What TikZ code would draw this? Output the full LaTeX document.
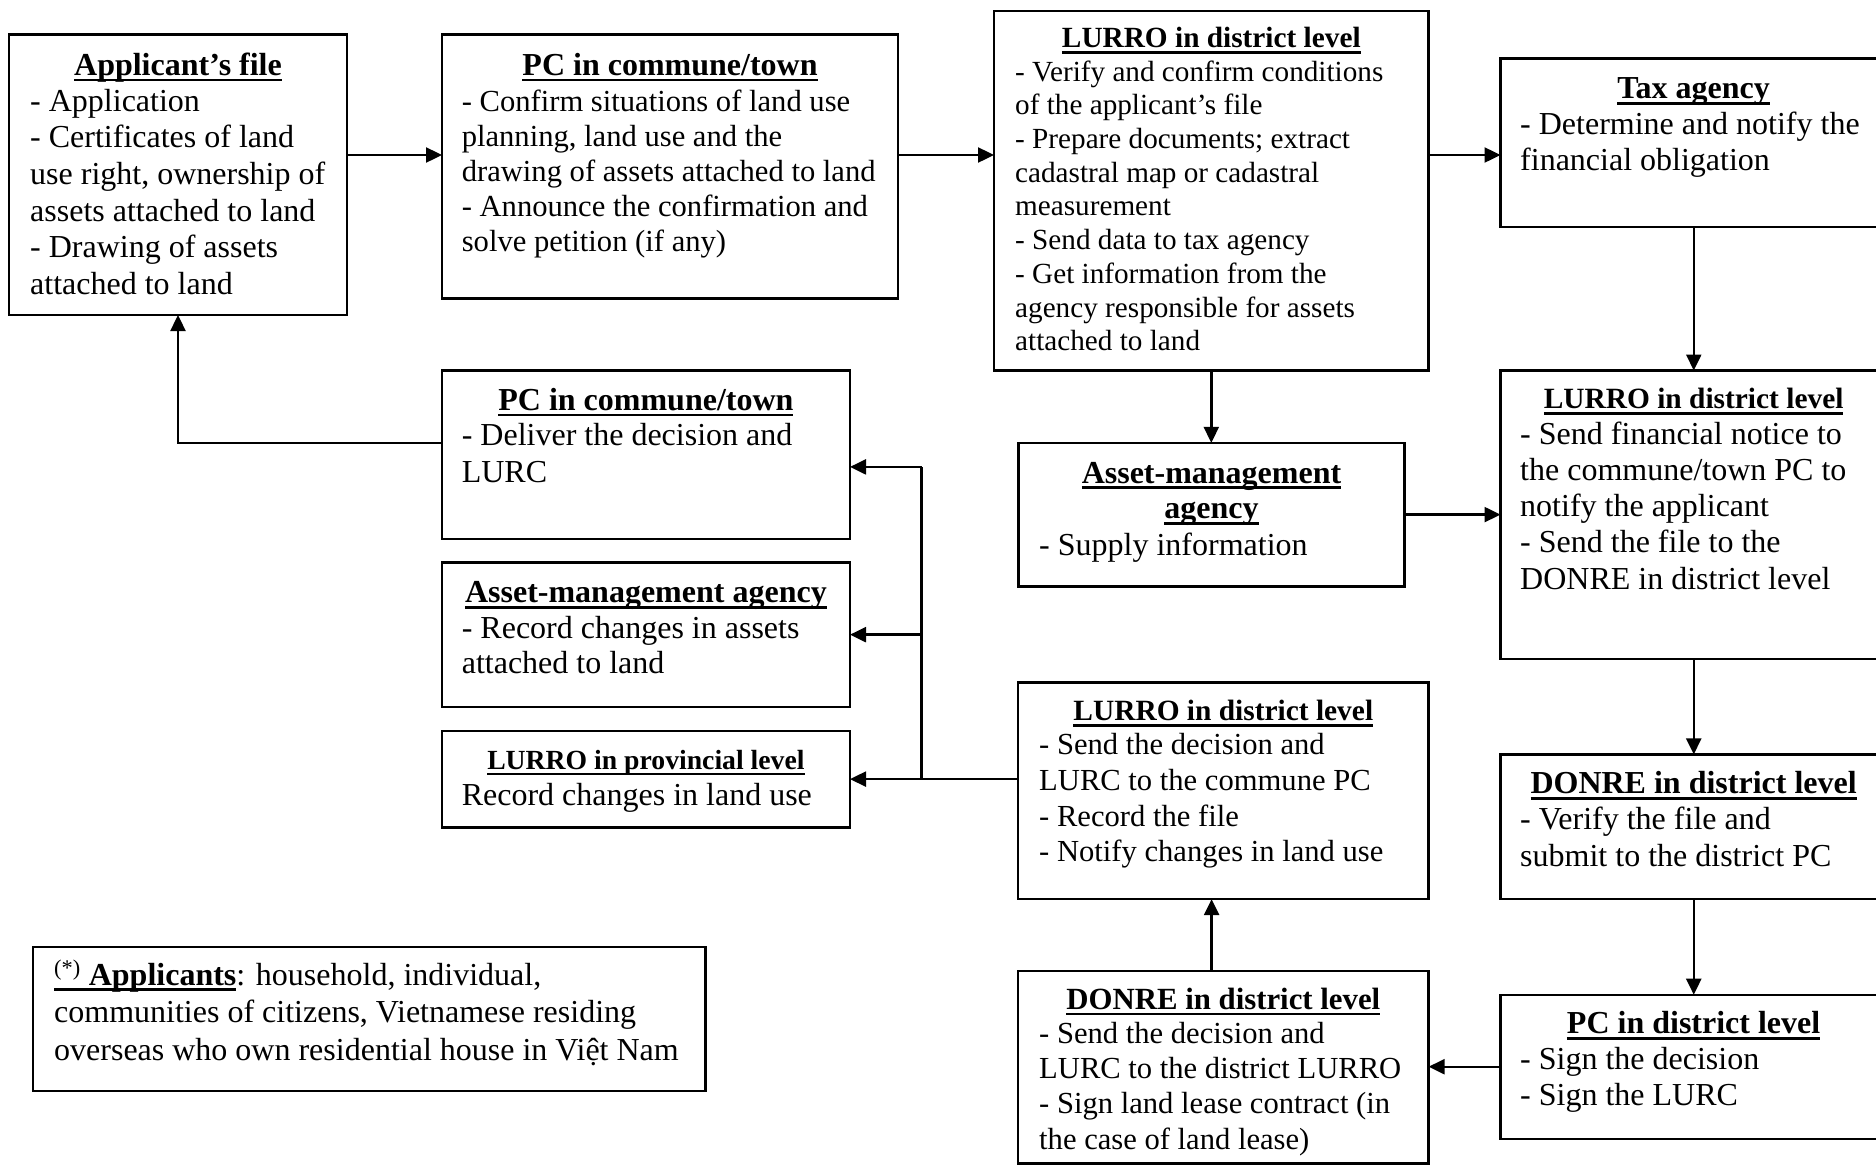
\documentclass[tikz,border=0pt]{standalone}
\usepackage{fontspec}
\setmainfont{Liberation Serif}
\usetikzlibrary{arrows.meta}
\newcommand\myul[1]{\setbox0=\hbox{#1}\rlap{\rule[-6pt]{\wd0}{2.8pt}}\box0}
\newcommand\mylines[1]{\vtop{\halign{##\hfil\cr#1\crcr}}}
\tikzset{
  x=1pt, y=-1pt,
  box/.style={draw, line width=2.4pt, inner sep=0pt, outer sep=0pt},
  ttl/.style 2 args={font=\fontsize{#1}{#2}\selectfont\bfseries, inner sep=0pt, anchor=base},
  body/.style 2 args={font=\fontsize{#1}{#2}\selectfont, inner sep=0pt, anchor=base west},
  arr/.style={line width=2.4pt, -{Triangle[length=16pt,width=15pt]}},
  conn/.style={line width=2.4pt}
}
\begin{document}
\begin{tikzpicture}
\useasboundingbox (0,0) rectangle (1876,1168);
\clip (0,0) rectangle (1876,1168);
\fill[white] (0,0) rectangle (1876,1168);

% boxes
\node[box, minimum width=338pt, minimum height=280.5pt] (A) at (178,174.75) {};
\node[box, minimum width=456pt, minimum height=264pt] (B) at (670,166.5) {};
\node[box, minimum width=434.6pt, minimum height=359.8pt] (C) at (1211.3,190.6) {};
\node[box, minimum width=386.5pt, minimum height=168.4pt] (D) at (1693.75,142.8) {};
\node[box, minimum width=386.5pt, minimum height=288.2pt] (E) at (1693.75,514.6) {};
\node[box, minimum width=386.5pt, minimum height=144.7pt] (F) at (1693.75,826.75) {};
\node[box, minimum width=386.5pt, minimum height=144pt] (G) at (1693.75,1066.7) {};
\node[box, minimum width=410.6pt, minimum height=192.7pt] (H) at (1223.3,1067.05) {};
\node[box, minimum width=410.6pt, minimum height=216.7pt] (I) at (1223.3,790.75) {};
\node[box, minimum width=386.1pt, minimum height=143.5pt] (J) at (1211.55,514.6) {};
\node[box, minimum width=408.2pt, minimum height=168.3pt] (K) at (645.9,454.65) {};
\node[box, minimum width=408.2pt, minimum height=144.1pt] (L) at (645.9,634.65) {};
\node[box, minimum width=408.2pt, minimum height=96.8pt] (M) at (645.9,779.1) {};
\node[box, minimum width=672.6pt, minimum height=144pt] (N) at (369.3,1018.7) {};

% titles
\node[ttl={32}{36.8}] (At) at (178,75.4) {\myul{Applicant’s file}};
\node[ttl={32}{36.8}] (Bt) at (670,75.4) {\myul{PC in commune/town}};
\node[ttl={29.3}{33.7}] (Ct) at (1211.3,47.8) {\myul{LURRO in district level}};
\node[ttl={32}{36.8}] (Dt) at (1693.6,98.7) {\myul{Tax agency}};
\node[ttl={29.4}{33.8}] (Et) at (1693.6,408.7) {\myul{LURRO in district level}};
\node[ttl={32}{36.8}] (Ft) at (1693.6,793.7) {\myul{DONRE in district level}};
\node[ttl={32}{36.8}] (Gt) at (1693.6,1033.7) {\myul{PC in district level}};
\node[ttl={30.8}{35.4}] (Ht) at (1223.3,1009.3) {\myul{DONRE in district level}};
\node[ttl={29.4}{33.8}] (It) at (1223.3,720.6) {\myul{LURRO in district level}};
\node[ttl={32}{36.8}] (Jt1) at (1211.5,483) {\myul{Asset-management}};
\node[ttl={32}{36.8}] (Jt2) at (1211.5,518.6) {\myul{agency}};
\node[ttl={32}{36.8}] (Kt) at (645.9,410.3) {\myul{PC in commune/town}};
\node[ttl={32}{36.8}] (Lt) at (645.9,602.5) {\myul{Asset-management agency}};
\node[ttl={27.7}{31.9}] (Mt) at (645.9,769.3) {\myul{LURRO in provincial level}};

% bodies
\node[body={32}{36.7}] (Ab) at (30,111) {\mylines{- Application\cr
- Certificates of land\cr
use right, ownership of\cr
assets attached to land\cr
- Drawing of assets\cr
attached to land}};
\node[body={30.6}{35.2}] (Bb) at (461.6,111) {\mylines{- Confirm situations of land use\cr
planning, land use and the\cr
drawing of assets attached to land\cr
- Announce the confirmation and\cr
solve petition (if any)}};
\node[body={29.2}{33.7}] (Cb) at (1015,81.1) {\mylines{- Verify and confirm conditions\cr
of the applicant’s file\cr
- Prepare documents; extract\cr
cadastral map or cadastral\cr
measurement\cr
- Send data to tax agency\cr
- Get information from the\cr
agency responsible for assets\cr
attached to land}};
\node[body={32}{36.3}] (Db) at (1520,134) {\mylines{- Determine and notify the\cr
financial obligation}};
\node[body={32}{36.3}] (Eb) at (1520,444) {\mylines{- Send financial notice to\cr
the commune/town PC to\cr
notify the applicant\cr
- Send the file to the\cr
DONRE in district level}};
\node[body={32}{36.8}] (Fb) at (1520,829.3) {\mylines{- Verify the file and\cr
submit to the district PC}};
\node[body={32}{36}] (Gb) at (1520,1069.3) {\mylines{- Sign the decision\cr
- Sign the LURC}};
\node[body={30.6}{35.4}] (Hb) at (1039,1043) {\mylines{- Send the decision and\cr
LURC to the district LURRO\cr
- Sign land lease contract (in\cr
the case of land lease)}};
\node[body={30.6}{35.8}] (Ib) at (1039,754.4) {\mylines{- Send the decision and\cr
LURC to the commune PC\cr
- Record the file\cr
- Notify changes in land use}};
\node[body={32}{36.8}] (Jb) at (1039,555) {- Supply information};
\node[body={32}{37}] (Kb) at (461.6,445.8) {\mylines{- Deliver the decision and\cr
LURC}};
\node[body={32}{35.6}] (Lb) at (461.6,638.1) {\mylines{- Record changes in assets\cr
attached to land}};
\node[body={32}{36.8}] (Mb) at (461.6,805) {Record changes in land use};
\node[body={32}{37.5}] (Nb) at (54,985) {\mylines{\myul{\textsuperscript{(*)} \textbf{Applicants}}: household, individual,\cr
communities of citizens, Vietnamese residing\cr
overseas who own residential house in Việt Nam}};

% connector helper coordinates
\coordinate (r1) at (0,155);
\coordinate (kx) at (178,442.8);
\coordinate (jn) at (921.5,466.9);
\coordinate (hx) at (1211.6,0);

% connectors
\draw[arr] (A.east |- r1) -- (B.west |- r1);
\draw[arr] (B.east |- r1) -- (C.west |- r1);
\draw[arr] (C.east |- r1) -- (D.west |- r1);
\draw[arr] (D.south) -- (E.north);
\draw[arr] (C.south) -- (C.south |- J.north);
\draw[arr] (J.east) -- (J.east -| E.west);
\draw[arr] (E.south) -- (F.north);
\draw[arr] (F.south) -- (G.north);
\draw[arr] (G.west) -- (G.west -| H.east);
\draw[arr] (hx |- H.north) -- (hx |- I.south);
\draw[arr] (I.west |- M.east) -- (M.east);
\draw[conn] (jn |- M.east) -- (jn);
\draw[arr] (jn) -- (jn -| K.east);
\draw[arr] (jn |- L.east) -- (L.east);
\draw[arr] (K.west |- kx) -- (kx) -- (kx |- A.south);
\end{tikzpicture}
\end{document}
